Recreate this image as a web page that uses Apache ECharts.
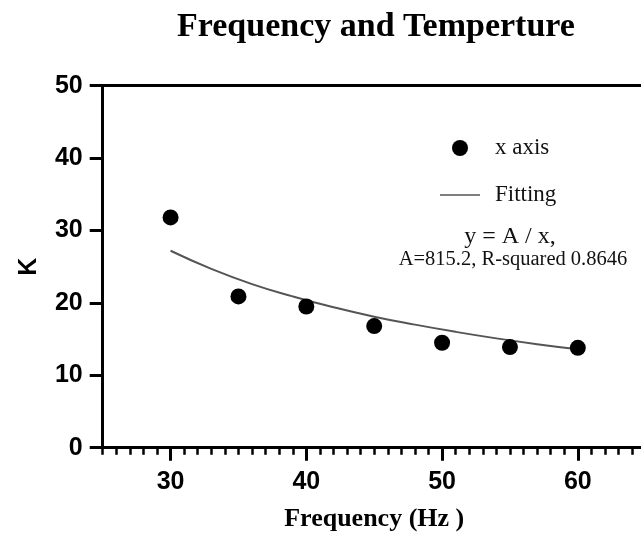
<!DOCTYPE html>
<html>
<head>
<meta charset="utf-8">
<script src="https://cdn.jsdelivr.net/npm/echarts@6/dist/echarts.min.js"></script>
<style>
html,body{margin:0;padding:0;background:#fff;}
#chart{width:641px;height:547px;}
</style>
</head>
<body>
<div id="chart"></div>
<script>
// Data
const frequency = [30, 35, 40, 45, 50, 55, 60];
const kValues = [31.8, 20.9, 19.5, 16.8, 14.5, 13.9, 13.8];
const fitX = [30, 33, 36, 39, 42, 45, 48, 51, 54, 57, 60];
const fitY = [27.2, 24.7, 22.6, 20.9, 19.4, 18.1, 17.0, 16.0, 15.1, 14.3, 13.6];
const xTickLabels = [30, 40, 50, 60];
const yTickLabels = [0, 10, 20, 30, 40, 50];
const titleText = 'Frequency and Temperture';
const xName = 'Frequency (Hz )';
const yName = 'K';
const equationText = 'y = A / x,';
const paramText = 'A=815.2, R-squared 0.8646';

const chart = echarts.init(document.getElementById('chart'), null, {renderer: 'canvas'});
const serif = '"Liberation Serif", "Times New Roman", serif';
const sans = '"Liberation Sans", Arial, sans-serif';

const option = {
  animation: false,
  backgroundColor: '#fff',
  title: {
    text: titleText,
    left: 177,
    top: 10,
    padding: 0,
    textStyle: {fontFamily: serif, fontWeight: 'bold', fontSize: 34, color: '#000'}
  },
  legend: {
    orient: 'vertical',
    left: 435,
    top: 131,
    itemWidth: 40,
    itemHeight: 16,
    itemGap: 23,
    textStyle: {fontFamily: serif, fontSize: 23, color: '#111', lineHeight: 24, padding: [0, 0, 0, 10]},
    data: [
      {name: 'x axis', icon: 'circle', itemStyle: {color: '#000', opacity: 1}},
      {name: 'Fitting', icon: 'path://M0,0 L40,0 L40,1.6 L0,1.6 Z', itemStyle: {color: '#555'}}
    ]
  },
  grid: {left: 102.7, width: 543, top: 85.7, bottom: 99.3, containLabel: false, outerBoundsMode: 'none'},
  xAxis: [
    {
      type: 'value', min: 25, max: 65, position: 'bottom',
      name: xName, nameLocation: 'middle', nameGap: 59,
      nameTextStyle: {fontFamily: serif, fontWeight: 'bold', fontSize: 26, color: '#000'},
      axisLine: {show: true, onZero: false, lineStyle: {color: '#000', width: 3}},
      axisTick: {show: true, inside: false, length: 13, lineStyle: {color: '#000', width: 3}, customValues: xTickLabels},
      axisLabel: {show: true, margin: 22, fontFamily: sans, fontWeight: 'bold', fontSize: 25, color: '#000', customValues: xTickLabels},
      splitLine: {show: false}
    },
    {
      type: 'value', min: 25, max: 65, interval: 1, position: 'bottom',
      axisLine: {show: false},
      axisTick: {show: true, inside: false, length: 7, lineStyle: {color: '#000', width: 2.5}},
      axisLabel: {show: false},
      splitLine: {show: false}
    },
    {
      type: 'value', min: 25, max: 65, position: 'top',
      axisLine: {show: true, onZero: false, lineStyle: {color: '#000', width: 3}},
      axisTick: {show: false},
      axisLabel: {show: false},
      splitLine: {show: false}
    }
  ],
  yAxis: {
    type: 'value', min: 0, max: 50, interval: 10,
    name: yName, nameLocation: 'middle', nameGap: 61, nameRotate: 90,
    nameTextStyle: {fontFamily: sans, fontWeight: 'bold', fontSize: 25, color: '#000'},
    axisLine: {show: true, onZero: false, lineStyle: {color: '#000', width: 3}},
    axisTick: {show: true, inside: false, length: 13, lineStyle: {color: '#000', width: 3}, customValues: yTickLabels},
    axisLabel: {show: true, margin: 20, fontFamily: sans, fontWeight: 'bold', fontSize: 25, color: '#000', customValues: yTickLabels},
    splitLine: {show: false}
  },
  graphic: [
    {type: 'text', x: 510, y: 237, style: {text: equationText, fontFamily: serif, fontSize: 24, fill: '#111', align: 'center', verticalAlign: 'middle'}},
    {type: 'text', x: 513, y: 259.5, style: {text: paramText, fontFamily: serif, fontSize: 20.5, fill: '#111', align: 'center', verticalAlign: 'middle'}}
  ],
  series: [
    {
      name: 'x axis', type: 'scatter', xAxisIndex: 0,
      symbol: 'circle', symbolSize: 16,
      itemStyle: {color: '#000', opacity: 1},
      data: frequency.map((f, i) => [f, kValues[i]]),
      z: 3
    },
    {
      name: 'Fitting', type: 'line', xAxisIndex: 0,
      smooth: true, symbol: 'none', showSymbol: false,
      lineStyle: {color: '#555', width: 2},
      itemStyle: {color: '#555'},
      data: fitX.map((f, i) => [f, fitY[i]]),
      z: 2
    }
  ]
};
chart.setOption(option);
</script>
</body>
</html>
